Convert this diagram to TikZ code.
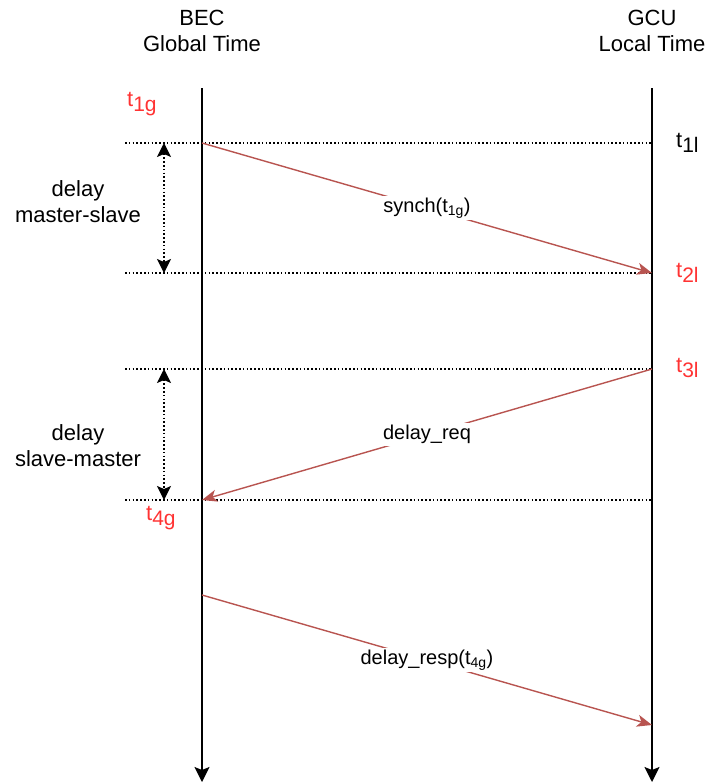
\documentclass[tikz,border=0pt]{standalone}
\usepackage{fontspec}
\setmainfont{Liberation Sans}
\usetikzlibrary{arrows.meta}
\definecolor{msgred}{HTML}{B85450}
\definecolor{labred}{HTML}{FF3333}
\newcommand{\tsub}[1]{t\raisebox{-5pt}{\fontsize{21}{21}\selectfont #1}}
\begin{document}
\begin{tikzpicture}[
    x=1pt, y=-1pt,
    head/.style={align=center, font=\fontsize{22}{26}\selectfont, inner sep=0pt},
    tlab/.style={font=\fontsize{22}{26}\selectfont, inner sep=0pt},
    msg/.style={fill=white, font=\fontsize{20}{24}\selectfont, inner sep=2pt},
    axis/.style={line width=1.6pt, -{Stealth[length=15pt,width=15pt,inset=3pt]}},
    sync/.style={draw=msgred, line width=1.4pt, -{Stealth[length=15pt,width=12pt,inset=4pt]}},
    level/.style={line width=1.4pt, dash pattern=on 1.6pt off 2.2pt},
    delay/.style={line width=1.4pt, dash pattern=on 1.6pt off 2.2pt,
      {Stealth[length=14pt,width=14pt,inset=3pt]}-{Stealth[length=14pt,width=14pt,inset=3pt]}}
  ]
  \useasboundingbox (0,0) rectangle (708,784);
  % headings
  \node[head] (bec) at (202,31) {BEC\\Global Time};
  \node[head] (gcu) at (652,31) {GCU\\Local Time};
  % time axes
  \coordinate (b0) at (202,88);
  \coordinate (b1) at (202,143);
  \coordinate (b2) at (202,273);
  \coordinate (b3) at (202,369);
  \coordinate (b4) at (202,500);
  \coordinate (b5) at (202,595);
  \coordinate (bend) at (202,782);
  \coordinate (g0) at (652,88);
  \coordinate (g1) at (652,143);
  \coordinate (g2) at (652,273);
  \coordinate (g3) at (652,369);
  \coordinate (g4) at (652,500);
  \coordinate (g5) at (652,725);
  \coordinate (gend) at (652,782);
  \draw[axis] (b0) -- (bend);
  \draw[axis] (g0) -- (gend);
  % levels
  \coordinate (l1) at (125,143);
  \coordinate (l2) at (125,273);
  \coordinate (l3) at (125,369);
  \coordinate (l4) at (125,500);
  \draw[level] (l1) -- (g1);
  \draw[level] (l2) -- (g2);
  \draw[level] (l3) -- (g3);
  \draw[level] (l4) -- (g4);
  % delays
  \coordinate (d1) at (164,143);
  \coordinate (d2) at (164,273);
  \coordinate (d3) at (164,369);
  \coordinate (d4) at (164,500);
  \draw[delay] (d1) -- (d2);
  \draw[delay] (d3) -- (d4);
  \node[head] (ms) at (78,202) {delay\\master-slave};
  \node[head] (sm) at (78,446) {delay\\slave-master};
  % time stamps
  \node[tlab, text=labred, anchor=west] (t1g) at (127,104) {\tsub{1g}};
  \node[tlab, anchor=west] (t1l) at (676,143) {\tsub{1l}};
  \node[tlab, text=labred, anchor=west] (t2l) at (676,273) {\tsub{2l}};
  \node[tlab, text=labred, anchor=west] (t3l) at (676,368) {\tsub{3l}};
  \node[tlab, text=labred, anchor=west] (t4g) at (146,518) {\tsub{4g}};
  % messages
  \draw[sync] (b1) -- node[msg, text=black] (m1) {synch(t\textsubscript{1g})} (g2);
  \draw[sync] (g3) -- node[msg, text=black] (m2) {delay\_req} (b4);
  \draw[sync] (b5) -- node[msg, text=black] (m3) {delay\_resp(t\textsubscript{4g})} (g5);
\end{tikzpicture}
\end{document}
